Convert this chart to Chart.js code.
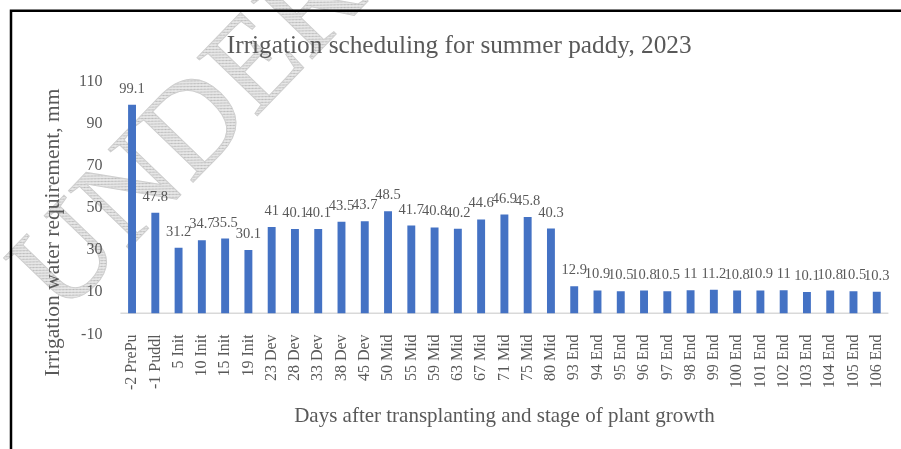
<!DOCTYPE html>
<html>
<head>
<meta charset="utf-8">
<script src="https://cdn.jsdelivr.net/npm/chart.js@4.4.0/dist/chart.umd.min.js"></script>
<style>
html,body{margin:0;padding:0;background:#ffffff;}
#wrap{width:901px;height:449px;position:relative;}
</style>
</head>
<body>
<div id="wrap"><canvas id="c" width="901" height="449"></canvas></div>
<script>
// ---- data ----
const categories = ['-2 PrePu','-1 Puddl','5 Init','10 Init','15 Init','19 Init','23 Dev','28 Dev','33 Dev','38 Dev','45 Dev','50 Mid','55 Mid','59 Mid','63 Mid','67 Mid','71 Mid','75 Mid','80 Mid','93 End','94 End','95 End','96 End','97 End','98 End','99 End','100 End','101 End','102 End','103 End','104 End','105 End','106 End'];
const waterRequirement = [99.1,47.8,31.2,34.7,35.5,30.1,41,40.1,40.1,43.5,43.7,48.5,41.7,40.8,40.2,44.6,46.9,45.8,40.3,12.9,10.9,10.5,10.8,10.5,11,11.2,10.8,10.9,11,10.1,10.8,10.5,10.3];
const yTicks = [-10,10,30,50,70,90,110];
const chartTitle = 'Irrigation scheduling for summer paddy, 2023';
const xAxisTitle = 'Days after transplanting and stage of plant growth';
const yAxisTitle = 'Irrigation water requirement, mm';
const watermarkText = 'UNDER REVIEW';

const SERIF = "'Liberation Serif', 'Times New Roman', serif";
const GREY = '#595959';

function hatchPattern(ctx){
  const c = document.createElement('canvas');
  c.width = 4; c.height = 4;
  const g = c.getContext('2d');
  g.fillStyle = '#e6e6e6'; g.fillRect(0,0,4,4);
  g.fillStyle = '#b8b8b8';
  g.fillRect(0,0,1,1); g.fillRect(1,1,1,1); g.fillRect(2,2,1,1); g.fillRect(3,3,1,1);
  return ctx.createPattern(c,'repeat');
}

const decor = {
  id: 'decor',
  beforeDraw(chart){
    const ctx = chart.ctx;
    ctx.save();
    ctx.translate(62, 318);
    ctx.rotate(-46 * Math.PI / 180);
    ctx.font = '128px ' + SERIF;
    ctx.textAlign = 'left';
    ctx.textBaseline = 'alphabetic';
    ctx.fillStyle = hatchPattern(ctx);
    ctx.fillText(watermarkText, 0, 0);
    ctx.lineWidth = 1;
    ctx.strokeStyle = '#cfcfcf';
    ctx.strokeText(watermarkText, 0, 0);
    ctx.restore();
  },
  beforeDatasetsDraw(chart){
    const ctx = chart.ctx, a = chart.chartArea, y = chart.scales.y;
    const py = y.getPixelForValue(0);
    ctx.save();
    ctx.strokeStyle = '#d9d9d9';
    ctx.lineWidth = 1.5;
    ctx.beginPath();
    ctx.moveTo(a.left, py); ctx.lineTo(a.right, py);
    ctx.stroke();
    ctx.restore();
  },
  afterDatasetsDraw(chart){
    const ctx = chart.ctx;
    const meta = chart.getDatasetMeta(0);
    const vals = chart.data.datasets[0].data;
    ctx.save();
    ctx.font = '14.5px ' + SERIF;
    ctx.fillStyle = GREY;
    ctx.textAlign = 'center';
    ctx.textBaseline = 'alphabetic';
    meta.data.forEach((el, i) => {
      ctx.fillText(String(vals[i]), el.x, el.y - 12);
    });
    ctx.restore();
  },
  afterDraw(chart){
    const ctx = chart.ctx;
    ctx.save();
    ctx.font = '21.5px ' + SERIF;
    ctx.fillStyle = GREY;
    ctx.textAlign = 'center';
    ctx.textBaseline = 'middle';
    ctx.translate(53.5, 232.5);
    ctx.rotate(-Math.PI/2);
    ctx.fillText(yAxisTitle, 0, 0);
    ctx.restore();
    // frame
    ctx.save();
    ctx.strokeStyle = '#000';
    ctx.lineWidth = 2.5;
    ctx.beginPath();
    ctx.moveTo(11, 449); ctx.lineTo(11, 10.7); ctx.lineTo(901, 10.7);
    ctx.stroke();
    ctx.restore();
  }
};

new Chart(document.getElementById('c'), {
  type: 'bar',
  data: {
    labels: categories,
    datasets: [{
      data: waterRequirement,
      backgroundColor: '#4472C4',
      borderWidth: 0,
      barPercentage: 0.68,
      categoryPercentage: 0.5
    }]
  },
  options: {
    responsive: false,
    devicePixelRatio: 1,
    animation: false,
    layout: { padding: { left: 30, right: 12.6, top: 0, bottom: 0 } },
    plugins: {
      legend: { display: false },
      tooltip: { enabled: false },
      title: {
        display: true,
        text: chartTitle,
        color: GREY,
        font: { family: SERIF, size: 25.3, weight: 'normal', lineHeight: 1.2 },
        padding: { top: 30.8, bottom: 20.6 }
      }
    },
    scales: {
      x: {
        type: 'category',
        grid: { display: false, drawTicks: false },
        border: { display: false },
        ticks: {
          color: GREY,
          font: { family: SERIF, size: 16 },
          maxRotation: 90, minRotation: 90,
          autoSkip: false,
          padding: 0
        },
        title: {
          display: true,
          text: xAxisTitle,
          color: GREY,
          font: { family: SERIF, size: 21, lineHeight: 1.2 },
          padding: { top: 0, bottom: 20.2 }
        },
        afterFit(s){ s.height = 449 - 334.4; }
      },
      y: {
        min: -10, max: 110,
        grid: { display: false, drawTicks: false },
        border: { display: false },
        afterBuildTicks(s){ s.ticks = yTicks.map(v => ({ value: v })); },
        ticks: {
          color: GREY,
          font: { family: SERIF, size: 16 },
          padding: 18
        },
        afterFit(s){ s.width = 120.4 - 30; }
      }
    }
  },
  plugins: [decor]
});
</script>
</body>
</html>
